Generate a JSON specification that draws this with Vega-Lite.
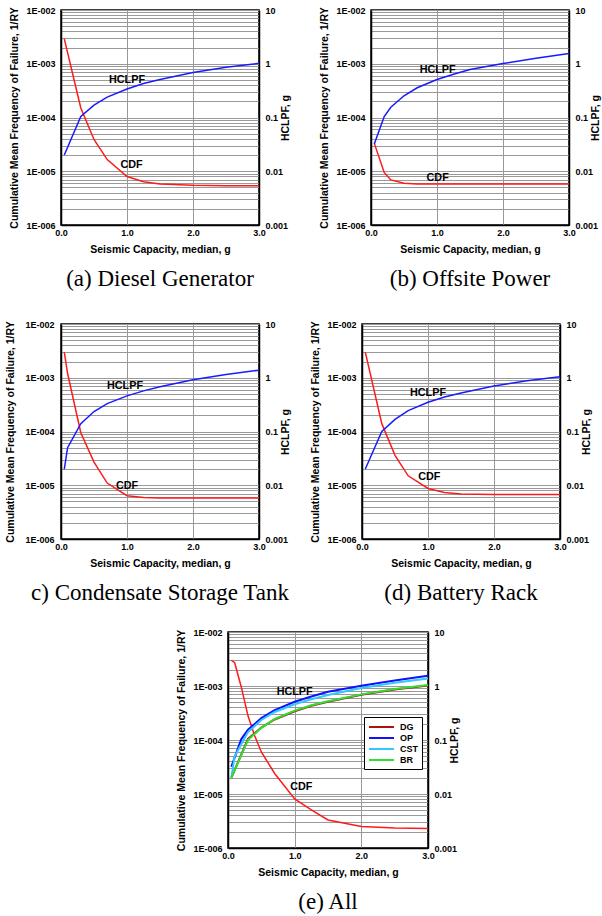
{
  "$schema": "https://vega.github.io/schema/vega-lite/v6.json",
  "padding": {"left": 5, "top": 5, "right": 0, "bottom": 0},
  "background": "white",
  "datasets": {
    "dg": [
      {"x": 0.05, "cdf": 0.0029, "hclpf": 0.02},
      {"x": 0.3, "cdf": 0.00015, "hclpf": 0.105},
      {"x": 0.5, "cdf": 0.000039, "hclpf": 0.17},
      {"x": 0.7, "cdf": 0.0000165, "hclpf": 0.24},
      {"x": 1.0, "cdf": 0.000008, "hclpf": 0.34},
      {"x": 1.25, "cdf": 0.0000064, "hclpf": 0.43},
      {"x": 1.5, "cdf": 0.0000058, "hclpf": 0.51},
      {"x": 2.0, "cdf": 0.0000055, "hclpf": 0.69},
      {"x": 2.5, "cdf": 0.0000054, "hclpf": 0.86},
      {"x": 3.0, "cdf": 0.0000054, "hclpf": 1.02}
    ],
    "op": [
      {"x": 0.05, "cdf": 0.000033, "hclpf": 0.032},
      {"x": 0.2, "cdf": 0.0000095, "hclpf": 0.104},
      {"x": 0.3, "cdf": 0.0000069, "hclpf": 0.155},
      {"x": 0.5, "cdf": 0.000006, "hclpf": 0.254},
      {"x": 0.7, "cdf": 0.0000058, "hclpf": 0.357},
      {"x": 1.0, "cdf": 0.0000058, "hclpf": 0.51},
      {"x": 1.25, "cdf": 0.0000058, "hclpf": 0.64},
      {"x": 1.5, "cdf": 0.0000058, "hclpf": 0.78},
      {"x": 2.0, "cdf": 0.0000058, "hclpf": 1.01},
      {"x": 2.5, "cdf": 0.0000058, "hclpf": 1.26},
      {"x": 3.0, "cdf": 0.0000058, "hclpf": 1.55}
    ],
    "cst": [
      {"x": 0.05, "cdf": 0.003, "hclpf": 0.02},
      {"x": 0.1, "cdf": 0.0012, "hclpf": 0.05},
      {"x": 0.3, "cdf": 0.000095, "hclpf": 0.14},
      {"x": 0.5, "cdf": 0.000027, "hclpf": 0.235},
      {"x": 0.7, "cdf": 0.000011, "hclpf": 0.33},
      {"x": 1.0, "cdf": 0.0000064, "hclpf": 0.46},
      {"x": 1.25, "cdf": 0.0000059, "hclpf": 0.57},
      {"x": 1.5, "cdf": 0.0000058, "hclpf": 0.68},
      {"x": 2.0, "cdf": 0.0000058, "hclpf": 0.92},
      {"x": 2.5, "cdf": 0.0000058, "hclpf": 1.15},
      {"x": 3.0, "cdf": 0.0000058, "hclpf": 1.38}
    ],
    "br": [
      {"x": 0.05, "cdf": 0.003, "hclpf": 0.02},
      {"x": 0.3, "cdf": 0.00014, "hclpf": 0.1},
      {"x": 0.5, "cdf": 0.000036, "hclpf": 0.168},
      {"x": 0.7, "cdf": 0.000015, "hclpf": 0.245},
      {"x": 1.0, "cdf": 0.0000087, "hclpf": 0.35},
      {"x": 1.25, "cdf": 0.0000073, "hclpf": 0.44},
      {"x": 1.5, "cdf": 0.0000069, "hclpf": 0.52},
      {"x": 2.0, "cdf": 0.0000067, "hclpf": 0.7},
      {"x": 2.5, "cdf": 0.0000067, "hclpf": 0.88},
      {"x": 3.0, "cdf": 0.0000067, "hclpf": 1.04}
    ],
    "all": [
      {"x": 0.05, "cdf": 0.003},
      {"x": 0.1, "cdf": 0.0027},
      {"x": 0.2, "cdf": 0.00095},
      {"x": 0.3, "cdf": 0.00028},
      {"x": 0.4, "cdf": 0.00012},
      {"x": 0.5, "cdf": 0.00006},
      {"x": 0.7, "cdf": 0.000024},
      {"x": 1.0, "cdf": 0.0000081},
      {"x": 1.25, "cdf": 0.0000051},
      {"x": 1.5, "cdf": 0.0000033},
      {"x": 2.0, "cdf": 0.0000025},
      {"x": 2.5, "cdf": 0.00000235},
      {"x": 3.0, "cdf": 0.0000023}
    ],
    "labels": [
      {"panel": "a", "label": "HCLPF", "x": 1.0, "cdf": 0.0005},
      {"panel": "a", "label": "CDF", "x": 1.07, "cdf": 0.000013},
      {"panel": "b", "label": "HCLPF", "x": 1.01, "cdf": 0.00078},
      {"panel": "b", "label": "CDF", "x": 1.01, "cdf": 0.0000074},
      {"panel": "c", "label": "HCLPF", "x": 0.97, "cdf": 0.00071},
      {"panel": "c", "label": "CDF", "x": 1.0, "cdf": 0.0000095},
      {"panel": "d", "label": "HCLPF", "x": 1.0, "cdf": 0.00052},
      {"panel": "d", "label": "CDF", "x": 1.02, "cdf": 0.000014},
      {"panel": "e", "label": "HCLPF", "x": 1.0, "cdf": 0.00076},
      {"panel": "e", "label": "CDF", "x": 1.1, "cdf": 0.0000133}
    ]
  },
  "vconcat": [
    {
      "vconcat": [
        {
          "hconcat": [
            {
              "width": 198, "height": 215,
              "title": {"text": "(a) Diesel Generator"},
              "layer": [
                {
                  "layer": [
                    {
                      "data": {"name": "dg"},
                      "mark": {"type": "line", "color": "#ff1a1a", "strokeWidth": 1.5},
                      "encoding": {
                        "x": {"field": "x", "type": "quantitative", "scale": {"domain": [0, 3]}, "axis": {"values": [0, 0.5, 1, 1.5, 2, 2.5, 3], "labelExpr": "datum.value % 1 == 0 ? format(datum.value, '.1f') : ''", "title": "Seismic Capacity, median, g", "labelPadding": 3, "titlePadding": 7}},
                        "y": {"field": "cdf", "type": "quantitative", "scale": {"type": "log", "domain": [0.000001, 0.01]}, "axis": {"title": "Cumulative Mean Frequency of Failure, 1/RY", "values": [0.000001, 0.000002, 0.000003, 0.000004, 0.000005, 0.000006, 0.000007, 0.000008, 0.000009, 0.00001, 0.00002, 0.00003, 0.00004, 0.00005, 0.00006, 0.00007, 0.00008, 0.00009, 0.0001, 0.0002, 0.0003, 0.0004, 0.0005, 0.0006, 0.0007, 0.0008, 0.0009, 0.001, 0.002, 0.003, 0.004, 0.005, 0.006, 0.007, 0.008, 0.009, 0.01], "labelExpr": "abs(log(datum.value)/LN10 - round(log(datum.value)/LN10)) < 0.001 ? '1E-00' + (-round(log(datum.value)/LN10)) : ''", "labelPadding": 6, "titlePadding": 6}}
                      }
                    },
                    {
                      "data": {"name": "labels"},
                      "transform": [{"filter": "datum.panel == 'a'"}],
                      "mark": {"type": "text", "font": "Liberation Sans", "fontWeight": "bold", "fontSize": 10.8, "color": "black"},
                      "encoding": {
                        "x": {"field": "x", "type": "quantitative"},
                        "y": {"field": "cdf", "type": "quantitative"},
                        "text": {"field": "label"}
                      }
                    }
                  ]
                },
                {
                  "data": {"name": "dg"},
                  "mark": {"type": "line", "color": "#1a1aff", "strokeWidth": 1.5},
                  "encoding": {
                    "x": {"field": "x", "type": "quantitative"},
                    "y": {"field": "hclpf", "type": "quantitative", "scale": {"type": "log", "domain": [0.001, 10]}, "axis": {"orient": "right", "title": "HCLPF, g", "values": [0.001, 0.01, 0.1, 1, 10], "format": ".3~f", "grid": false, "titleAngle": 270, "labelPadding": 6, "titlePadding": 3}}
                  }
                }
              ],
              "resolve": {"scale": {"y": "independent"}}
            },
            {
              "width": 198, "height": 215,
              "title": {"text": "(b) Offsite Power"},
              "layer": [
                {
                  "layer": [
                    {
                      "data": {"name": "op"},
                      "mark": {"type": "line", "color": "#ff1a1a", "strokeWidth": 1.5},
                      "encoding": {
                        "x": {"field": "x", "type": "quantitative", "scale": {"domain": [0, 3]}, "axis": {"values": [0, 0.5, 1, 1.5, 2, 2.5, 3], "labelExpr": "datum.value % 1 == 0 ? format(datum.value, '.1f') : ''", "title": "Seismic Capacity, median, g", "labelPadding": 3, "titlePadding": 7}},
                        "y": {"field": "cdf", "type": "quantitative", "scale": {"type": "log", "domain": [0.000001, 0.01]}, "axis": {"title": "Cumulative Mean Frequency of Failure, 1/RY", "values": [0.000001, 0.000002, 0.000003, 0.000004, 0.000005, 0.000006, 0.000007, 0.000008, 0.000009, 0.00001, 0.00002, 0.00003, 0.00004, 0.00005, 0.00006, 0.00007, 0.00008, 0.00009, 0.0001, 0.0002, 0.0003, 0.0004, 0.0005, 0.0006, 0.0007, 0.0008, 0.0009, 0.001, 0.002, 0.003, 0.004, 0.005, 0.006, 0.007, 0.008, 0.009, 0.01], "labelExpr": "abs(log(datum.value)/LN10 - round(log(datum.value)/LN10)) < 0.001 ? '1E-00' + (-round(log(datum.value)/LN10)) : ''", "labelPadding": 6, "titlePadding": 6}}
                      }
                    },
                    {
                      "data": {"name": "labels"},
                      "transform": [{"filter": "datum.panel == 'b'"}],
                      "mark": {"type": "text", "font": "Liberation Sans", "fontWeight": "bold", "fontSize": 10.8, "color": "black"},
                      "encoding": {
                        "x": {"field": "x", "type": "quantitative"},
                        "y": {"field": "cdf", "type": "quantitative"},
                        "text": {"field": "label"}
                      }
                    }
                  ]
                },
                {
                  "data": {"name": "op"},
                  "mark": {"type": "line", "color": "#1a1aff", "strokeWidth": 1.5},
                  "encoding": {
                    "x": {"field": "x", "type": "quantitative"},
                    "y": {"field": "hclpf", "type": "quantitative", "scale": {"type": "log", "domain": [0.001, 10]}, "axis": {"orient": "right", "title": "HCLPF, g", "values": [0.001, 0.01, 0.1, 1, 10], "format": ".3~f", "grid": false, "titleAngle": 270, "labelPadding": 6, "titlePadding": 3}}
                  }
                }
              ],
              "resolve": {"scale": {"y": "independent"}}
            }
          ],
          "spacing": 27
        },
        {
          "hconcat": [
            {
              "width": 198, "height": 215,
              "title": {"text": "c) Condensate Storage Tank"},
              "layer": [
                {
                  "layer": [
                    {
                      "data": {"name": "cst"},
                      "mark": {"type": "line", "color": "#ff1a1a", "strokeWidth": 1.5},
                      "encoding": {
                        "x": {"field": "x", "type": "quantitative", "scale": {"domain": [0, 3]}, "axis": {"values": [0, 0.5, 1, 1.5, 2, 2.5, 3], "labelExpr": "datum.value % 1 == 0 ? format(datum.value, '.1f') : ''", "title": "Seismic Capacity, median, g", "labelPadding": 3, "titlePadding": 7}},
                        "y": {"field": "cdf", "type": "quantitative", "scale": {"type": "log", "domain": [0.000001, 0.01]}, "axis": {"title": "Cumulative Mean Frequency of Failure, 1/RY", "values": [0.000001, 0.000002, 0.000003, 0.000004, 0.000005, 0.000006, 0.000007, 0.000008, 0.000009, 0.00001, 0.00002, 0.00003, 0.00004, 0.00005, 0.00006, 0.00007, 0.00008, 0.00009, 0.0001, 0.0002, 0.0003, 0.0004, 0.0005, 0.0006, 0.0007, 0.0008, 0.0009, 0.001, 0.002, 0.003, 0.004, 0.005, 0.006, 0.007, 0.008, 0.009, 0.01], "labelExpr": "abs(log(datum.value)/LN10 - round(log(datum.value)/LN10)) < 0.001 ? '1E-00' + (-round(log(datum.value)/LN10)) : ''", "labelPadding": 7, "titlePadding": 9}}
                      }
                    },
                    {
                      "data": {"name": "labels"},
                      "transform": [{"filter": "datum.panel == 'c'"}],
                      "mark": {"type": "text", "font": "Liberation Sans", "fontWeight": "bold", "fontSize": 10.8, "color": "black"},
                      "encoding": {
                        "x": {"field": "x", "type": "quantitative"},
                        "y": {"field": "cdf", "type": "quantitative"},
                        "text": {"field": "label"}
                      }
                    }
                  ]
                },
                {
                  "data": {"name": "cst"},
                  "mark": {"type": "line", "color": "#1a1aff", "strokeWidth": 1.5},
                  "encoding": {
                    "x": {"field": "x", "type": "quantitative"},
                    "y": {"field": "hclpf", "type": "quantitative", "scale": {"type": "log", "domain": [0.001, 10]}, "axis": {"orient": "right", "title": "HCLPF, g", "values": [0.001, 0.01, 0.1, 1, 10], "format": ".3~f", "grid": false, "titleAngle": 270, "labelPadding": 6, "titlePadding": 3}}
                  }
                }
              ],
              "resolve": {"scale": {"y": "independent"}}
            },
            {
              "width": 198, "height": 215,
              "title": {"text": "(d) Battery Rack"},
              "layer": [
                {
                  "layer": [
                    {
                      "data": {"name": "br"},
                      "mark": {"type": "line", "color": "#ff1a1a", "strokeWidth": 1.5},
                      "encoding": {
                        "x": {"field": "x", "type": "quantitative", "scale": {"domain": [0, 3]}, "axis": {"values": [0, 0.5, 1, 1.5, 2, 2.5, 3], "labelExpr": "datum.value % 1 == 0 ? format(datum.value, '.1f') : ''", "title": "Seismic Capacity, median, g", "labelPadding": 3, "titlePadding": 7}},
                        "y": {"field": "cdf", "type": "quantitative", "scale": {"type": "log", "domain": [0.000001, 0.01]}, "axis": {"title": "Cumulative Mean Frequency of Failure, 1/RY", "values": [0.000001, 0.000002, 0.000003, 0.000004, 0.000005, 0.000006, 0.000007, 0.000008, 0.000009, 0.00001, 0.00002, 0.00003, 0.00004, 0.00005, 0.00006, 0.00007, 0.00008, 0.00009, 0.0001, 0.0002, 0.0003, 0.0004, 0.0005, 0.0006, 0.0007, 0.0008, 0.0009, 0.001, 0.002, 0.003, 0.004, 0.005, 0.006, 0.007, 0.008, 0.009, 0.01], "labelExpr": "abs(log(datum.value)/LN10 - round(log(datum.value)/LN10)) < 0.001 ? '1E-00' + (-round(log(datum.value)/LN10)) : ''", "labelPadding": 6, "titlePadding": 6}}
                      }
                    },
                    {
                      "data": {"name": "labels"},
                      "transform": [{"filter": "datum.panel == 'd'"}],
                      "mark": {"type": "text", "font": "Liberation Sans", "fontWeight": "bold", "fontSize": 10.8, "color": "black"},
                      "encoding": {
                        "x": {"field": "x", "type": "quantitative"},
                        "y": {"field": "cdf", "type": "quantitative"},
                        "text": {"field": "label"}
                      }
                    }
                  ]
                },
                {
                  "data": {"name": "br"},
                  "mark": {"type": "line", "color": "#1a1aff", "strokeWidth": 1.5},
                  "encoding": {
                    "x": {"field": "x", "type": "quantitative"},
                    "y": {"field": "hclpf", "type": "quantitative", "scale": {"type": "log", "domain": [0.001, 10]}, "axis": {"orient": "right", "title": "HCLPF, g", "values": [0.001, 0.01, 0.1, 1, 10], "format": ".3~f", "grid": false, "titleAngle": 270, "labelPadding": 6, "titlePadding": 3}}
                  }
                }
              ],
              "resolve": {"scale": {"y": "independent"}}
            }
          ],
          "spacing": 18
        }
      ],
      "spacing": 27
    },
    {
      "hconcat": [
        {
          "width": 115, "height": 1,
          "view": {"stroke": null},
          "data": {"values": []},
          "mark": {"type": "point", "opacity": 0}
        },
        {
          "width": 200, "height": 216,
          "title": {"text": "(e) All"},
          "layer": [
            {
              "layer": [
                {
                  "data": {"name": "all"},
                  "mark": {"type": "line", "color": "#ff1a1a", "strokeWidth": 1.5},
                  "encoding": {
                    "x": {"field": "x", "type": "quantitative", "scale": {"domain": [0, 3]}, "axis": {"values": [0, 0.5, 1, 1.5, 2, 2.5, 3], "labelExpr": "datum.value % 1 == 0 ? format(datum.value, '.1f') : ''", "title": "Seismic Capacity, median, g", "labelPadding": 3, "titlePadding": 7}},
                    "y": {"field": "cdf", "type": "quantitative", "scale": {"type": "log", "domain": [0.000001, 0.01]}, "axis": {"title": "Cumulative Mean Frequency of Failure, 1/RY", "values": [0.000001, 0.000002, 0.000003, 0.000004, 0.000005, 0.000006, 0.000007, 0.000008, 0.000009, 0.00001, 0.00002, 0.00003, 0.00004, 0.00005, 0.00006, 0.00007, 0.00008, 0.00009, 0.0001, 0.0002, 0.0003, 0.0004, 0.0005, 0.0006, 0.0007, 0.0008, 0.0009, 0.001, 0.002, 0.003, 0.004, 0.005, 0.006, 0.007, 0.008, 0.009, 0.01], "labelExpr": "abs(log(datum.value)/LN10 - round(log(datum.value)/LN10)) < 0.001 ? '1E-00' + (-round(log(datum.value)/LN10)) : ''", "labelPadding": 6, "titlePadding": 6}}
                  }
                },
                {
                  "data": {"name": "labels"},
                  "transform": [{"filter": "datum.panel == 'e'"}],
                  "mark": {"type": "text", "font": "Liberation Sans", "fontWeight": "bold", "fontSize": 10.8, "color": "black"},
                  "encoding": {
                    "x": {"field": "x", "type": "quantitative"},
                    "y": {"field": "cdf", "type": "quantitative"},
                    "text": {"field": "label"}
                  }
                }
              ]
            },
            {
              "layer": [
                {
                  "data": {"name": "dg"},
                  "mark": {"type": "line", "strokeWidth": 2},
                  "encoding": {
                    "x": {"field": "x", "type": "quantitative"},
                    "y": {"field": "hclpf", "type": "quantitative", "scale": {"type": "log", "domain": [0.001, 10]}, "axis": {"orient": "right", "title": "HCLPF, g", "values": [0.001, 0.01, 0.1, 1, 10], "format": ".3~f", "grid": false, "titleAngle": 270, "labelPadding": 6, "titlePadding": 3}},
                    "color": {"datum": "DG", "type": "nominal", "scale": {"domain": ["DG", "OP", "CST", "BR"], "range": ["#b01010", "#1010ff", "#30c8ff", "#30e030"]}, "legend": {"title": null, "orient": "none", "legendX": 136, "legendY": 85}}
                  }
                },
                {
                  "data": {"name": "op"},
                  "mark": {"type": "line", "strokeWidth": 2},
                  "encoding": {
                    "x": {"field": "x", "type": "quantitative"},
                    "y": {"field": "hclpf", "type": "quantitative"},
                    "color": {"datum": "OP", "type": "nominal"}
                  }
                },
                {
                  "data": {"name": "cst"},
                  "mark": {"type": "line", "strokeWidth": 2},
                  "encoding": {
                    "x": {"field": "x", "type": "quantitative"},
                    "y": {"field": "hclpf", "type": "quantitative"},
                    "color": {"datum": "CST", "type": "nominal"}
                  }
                },
                {
                  "data": {"name": "br"},
                  "mark": {"type": "line", "strokeWidth": 2},
                  "encoding": {
                    "x": {"field": "x", "type": "quantitative"},
                    "y": {"field": "hclpf", "type": "quantitative"},
                    "color": {"datum": "BR", "type": "nominal"}
                  }
                }
              ]
            }
          ],
          "resolve": {"scale": {"y": "independent"}}
        }
      ],
      "spacing": 0,
      "resolve": {"scale": {"color": "independent"}, "legend": {"color": "independent"}}
    }
  ],
  "spacing": 21,
  "resolve": {"scale": {"color": "independent"}, "legend": {"color": "independent"}},
  "config": {
    "font": "Liberation Sans",
    "view": {"stroke": "black", "strokeWidth": 1.5},
    "axis": {
      "labelFont": "Liberation Sans", "labelFontWeight": "bold", "labelFontSize": 9, "labelColor": "black",
      "titleFont": "Liberation Sans", "titleFontWeight": "bold", "titleFontSize": 10.5, "titleColor": "black",
      "ticks": false, "domainColor": "black", "domainWidth": 1.5,
      "gridColor": "#999999", "gridWidth": 1, "gridOpacity": 1,
      "labelOverlap": false, "labelFlush": false, "labelBound": false
    },
    "title": {"font": "Liberation Serif", "fontSize": 23, "fontWeight": "normal", "orient": "bottom", "offset": 13, "color": "black", "anchor": "middle"},
    "legend": {
      "symbolType": "M-1,0H4", "symbolSize": 100, "symbolStrokeWidth": 2,
      "labelFont": "Liberation Sans", "labelFontWeight": "bold", "labelFontSize": 9, "labelColor": "black",
      "labelOffset": 20, "rowPadding": 0, "padding": 4,
      "strokeColor": "black", "fillColor": "white", "cornerRadius": 0
    }
  }
}
